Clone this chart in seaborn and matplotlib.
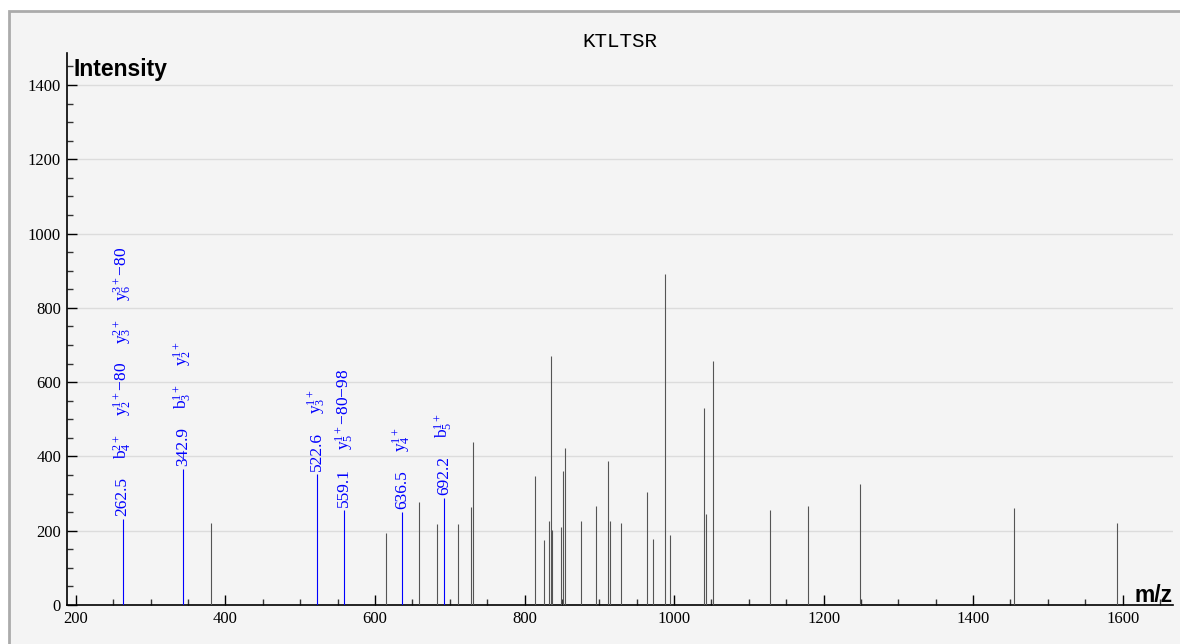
import matplotlib
matplotlib.use("Agg")
import matplotlib.pyplot as plt
import seaborn as sns
import numpy as np
import pandas as pd
from matplotlib.patches import Rectangle
from matplotlib.ticker import MultipleLocator

# ---------------- data ----------------
title = "KTLTSR"
x_label = "m/z"
y_label = "Intensity"

peak_mz = [380.2, 614.3, 659.3, 683.4, 711.5, 728.0, 731.5, 813.7, 826.5, 832.3,
           835.0, 837.2, 848.3, 851.4, 854.5, 876.0, 896.0, 911.7, 914.4, 929.6,
           963.9, 972.0, 987.5, 995.0, 1039.7, 1042.4, 1052.6, 1128.4, 1179.3,
           1248.8, 1454.4, 1592.6]
peak_int = [222, 193, 277, 217, 218, 263, 439, 348, 175, 227,
            670, 202, 210, 362, 423, 226, 266, 387, 226, 220,
            304, 179, 891, 188, 530, 245, 656, 255, 266,
            327, 261, 221]

ion_mz = [262.5, 342.9, 522.6, 559.1, 636.5, 692.2]
ion_int = [231, 365, 352, 256, 251, 289]
ion_labels = [
    [r"$\mathrm{b}_{4}^{2+}$", r"$\mathrm{y}_{2}^{1+}$−80", r"$\mathrm{y}_{3}^{2+}$", r"$\mathrm{y}_{6}^{3+}$−80"],
    [r"$\mathrm{b}_{3}^{1+}$", r"$\mathrm{y}_{2}^{1+}$"],
    [r"$\mathrm{y}_{3}^{1+}$"],
    [r"$\mathrm{y}_{5}^{1+}$−80−98"],
    [r"$\mathrm{y}_{4}^{1+}$"],
    [r"$\mathrm{b}_{5}^{1+}$"],
]

# ---------------- style ----------------
sns.set_theme(style="ticks")
plt.rcParams.update({
    "font.family": ["Liberation Serif", "DejaVu Serif"],
    "mathtext.fontset": "custom",
    "mathtext.rm": "Liberation Serif",
    "mathtext.it": "Liberation Serif:italic",
    "mathtext.bf": "Liberation Serif:bold",
    "text.color": "black",
    "axes.labelcolor": "black",
    "xtick.color": "black",
    "ytick.color": "black",
})

DPI = 100
W, H = 1180, 644
fig = plt.figure(figsize=(W / DPI, H / DPI), dpi=DPI, facecolor="white")

# outer panel with grey border
panel = Rectangle((8.5 / W, -0.2), 1.2, 1.2 - 11 / H, transform=fig.transFigure,
                  facecolor="#f4f4f4", edgecolor="#ababab", linewidth=2.0, zorder=0)
fig.add_artist(panel)

ax_l, ax_r, ax_b, ax_t = 67, 1172.7, 605, 53
ax = fig.add_axes([ax_l / W, (H - ax_b) / H, (ax_r - ax_l) / W, (ax_b - ax_t) / H])
ax.set_facecolor("#f4f4f4")
ax.patch.set_alpha(0)

df_peaks = pd.DataFrame({"mz": peak_mz, "intensity": peak_int})
df_ions = pd.DataFrame({"mz": ion_mz, "intensity": ion_int})

ax.vlines(df_peaks["mz"], 0, df_peaks["intensity"], colors="#555555", linewidth=0.8, zorder=3)
ax.vlines(df_ions["mz"], 0, df_ions["intensity"], colors="#0000ff", linewidth=0.8, zorder=3)

ax.set_xlim(188, 1667)
ax.set_ylim(0, 1486)

ax.xaxis.set_major_locator(MultipleLocator(200))
ax.xaxis.set_minor_locator(MultipleLocator(50))
ax.yaxis.set_major_locator(MultipleLocator(200))
ax.yaxis.set_minor_locator(MultipleLocator(50))
ax.tick_params(which="major", direction="in", length=7.2, width=1.0, color="black",
               labelsize=12, pad=4.3, labelcolor="black")
ax.tick_params(which="minor", direction="in", length=4.3, width=1.0, color="#333333")

ax.yaxis.grid(True, which="major", color="#dcdcdc", linewidth=1.0, zorder=0)
ax.xaxis.grid(False)
ax.set_axisbelow(True)

sns.despine(ax=ax, top=True, right=True)
for s in ["left", "bottom"]:
    ax.spines[s].set_color("black")
    ax.spines[s].set_linewidth(1.2)

ax.set_title(title, family="Liberation Mono", fontsize=15, pad=4, color="black")
ax.text(0.006, (ax_b - 76) / (ax_b - ax_t), y_label, transform=ax.transAxes,
        family="Liberation Sans", fontweight="bold", fontsize=16.5, ha="left",
        va="baseline", color="black")
ax.text(1.0, 3 / (ax_b - ax_t), x_label, transform=ax.transAxes,
        family="Liberation Sans", fontweight="bold", fontsize=16.5, ha="right",
        va="baseline", color="black")

# stacked ion annotations
fig.canvas.draw()
renderer = fig.canvas.get_renderer()
gap_px = 18
for mz, inten, lbls in zip(ion_mz, ion_int, ion_labels):
    off_px = 3
    for s in [f"{mz:.1f}"] + lbls:
        t = ax.annotate(s, xy=(mz, inten), xytext=(0, off_px * 72 / DPI),
                        textcoords="offset points", rotation=90, ha="center", va="bottom",
                        color="#0000ff", fontsize=12.5, zorder=4)
        bb = t.get_window_extent(renderer)
        off_px += bb.height + gap_px

fig.savefig("out.png", dpi=DPI, facecolor="white")
